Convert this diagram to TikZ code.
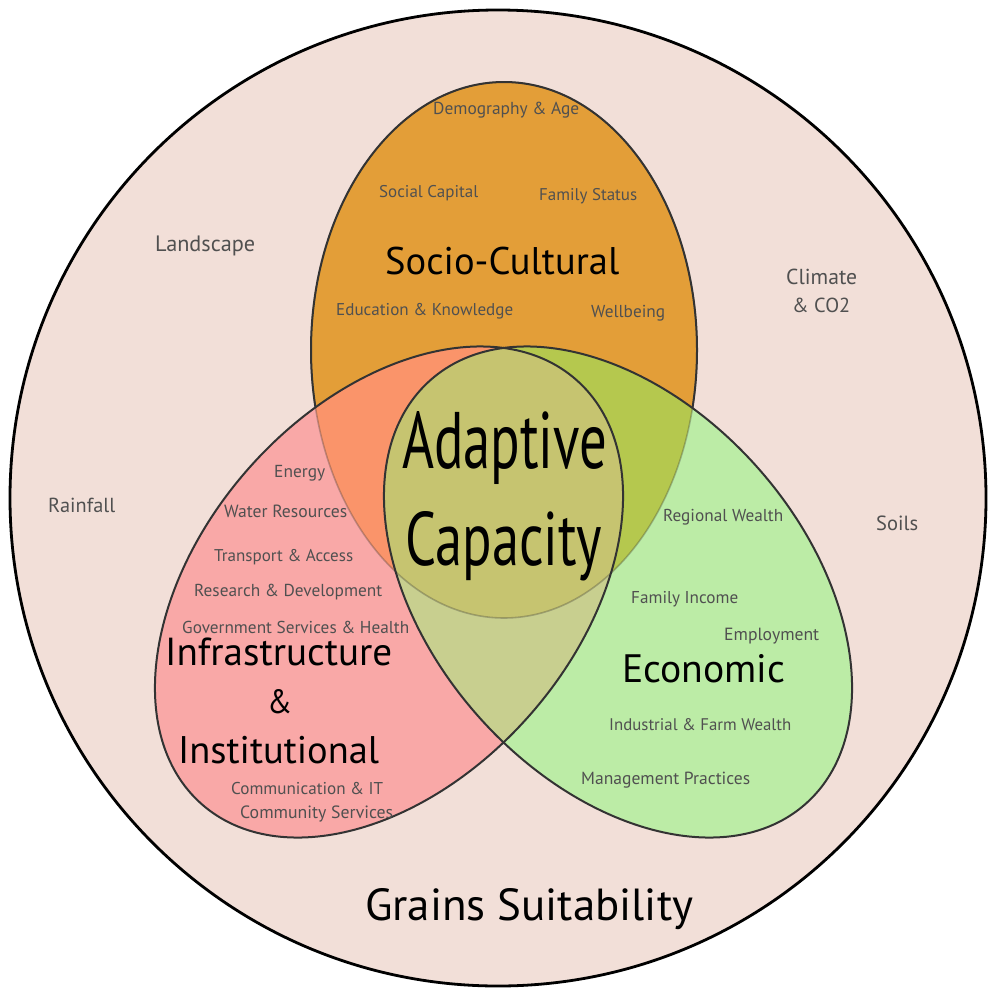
\documentclass[tikz,border=0pt]{standalone}
\usepackage{graphicx}
\usepackage{fontspec}
\setmainfont{PT Sans}
\definecolor{bgc}{HTML}{F2DFD8}
\definecolor{orc}{HTML}{E39E38}
\definecolor{pkc}{HTML}{F9A8A7}
\definecolor{grc}{HTML}{BCECA6}
\definecolor{salc}{HTML}{FA946A}
\definecolor{olc}{HTML}{B5C84E}
\definecolor{pgc}{HTML}{C8CF8F}
\definecolor{trc}{HTML}{C6C470}
\definecolor{txg}{HTML}{505050}
\definecolor{lnc}{HTML}{333333}
\newcommand{\fitw}[2]{\resizebox{#1pt}{!}{#2}}
\newcommand{\fitwh}[3]{\resizebox{#1pt}{#2pt}{#3}}
\begin{document}
\begin{tikzpicture}[x=1pt,y=-1pt,line join=round,
  pinkT/.style={rotate around={48.5:(389,592)}},
  greenT/.style={rotate around={-48.5:(618,592)}},
  ln/.style={draw=lnc,line width=2pt},
  faint/.style={draw=lnc,line width=1.6pt,draw opacity=0.3},
  lbl/.style={anchor=base west,inner sep=0pt,text=txg},
  big/.style={anchor=base west,inner sep=0pt,text=black}]
\useasboundingbox (0,0) rectangle (995,988);
\fill[white] (0,0) rectangle (995,988);
\fill[bgc] (498,498) circle[radius=488pt];
% socio-cultural
\fill[orc] (504,350) ellipse[x radius=193pt,y radius=268pt];
\draw[ln] (504,350) ellipse[x radius=193pt,y radius=268pt];
% infrastructure and economic
\fill[pkc,pinkT] (389,592) ellipse[x radius=283pt,y radius=187pt];
\fill[grc,greenT] (618,592) ellipse[x radius=283pt,y radius=187pt];
\begin{scope}
  \clip (504,350) ellipse[x radius=193pt,y radius=268pt];
  \fill[salc,pinkT] (389,592) ellipse[x radius=283pt,y radius=187pt];
  \fill[olc,greenT] (618,592) ellipse[x radius=283pt,y radius=187pt];
\end{scope}
\begin{scope}
  \clip[pinkT] (389,592) ellipse[x radius=283pt,y radius=187pt];
  \fill[pgc,greenT] (618,592) ellipse[x radius=283pt,y radius=187pt];
  \clip[greenT] (618,592) ellipse[x radius=283pt,y radius=187pt];
  \fill[trc] (504,350) ellipse[x radius=193pt,y radius=268pt];
\end{scope}
\draw[faint] (504,350) ellipse[x radius=193pt,y radius=268pt];
\draw[ln,pinkT] (389,592) ellipse[x radius=283pt,y radius=187pt];
\draw[ln,greenT] (618,592) ellipse[x radius=283pt,y radius=187pt];
\draw[black,line width=2.8pt] (498,498) circle[radius=488pt];
% outer labels
\node[lbl] (land) at (155,251) {\fitw{100}{Landscape}};
\node[lbl] (clim) at (786,284) {\fitw{71}{Climate}};
\node[lbl] (co2) at (792,312) {\fitw{58}{\& CO2}};
\node[lbl] (rain) at (48,512) {\fitw{67}{Rainfall}};
\node[lbl] (soil) at (876,530) {\fitw{42}{Soils}};
\node[big] (grain) at (365,920) {\fitw{328}{Grains Suitability}};
% socio-cultural labels
\node[lbl] (demo) at (433,114) {\fitw{146}{Demography \& Age}};
\node[lbl] (socap) at (379,197) {\fitw{99}{Social Capital}};
\node[lbl] (famst) at (539,200) {\fitw{98}{Family Status}};
\node[big] (socio) at (385,274) {\fitw{234}{Socio-Cultural}};
\node[lbl] (edu) at (336,315) {\fitw{177}{Education \& Knowledge}};
\node[lbl] (well) at (591,317) {\fitw{74}{Wellbeing}};
% infrastructure labels
\node[lbl] (ener) at (274,477) {\fitw{51}{Energy}};
\node[lbl] (water) at (224,517) {\fitw{123}{Water Resources}};
\node[lbl] (trans) at (214,561) {\fitw{139}{Transport \& Access}};
\node[lbl] (rd) at (194,596) {\fitw{188}{Research \& Development}};
\node[lbl] (gov) at (182,633) {\fitw{227}{Government Services \& Health}};
\node[big] (infra) at (165,665) {\fitw{227}{Infrastructure}};
\node[big] (amp) at (267,713) {\fitwh{25}{24}{\&}};
\node[big] (inst) at (178,763) {\fitw{201}{Institutional}};
\node[lbl] (comm) at (231,794) {\fitw{152}{Communication \& IT}};
\node[lbl] (csvc) at (240,818) {\fitw{153}{Community Services}};
% economic labels
\node[lbl] (regw) at (663,521) {\fitw{120}{Regional Wealth}};
\node[lbl] (faminc) at (631,603) {\fitw{107}{Family Income}};
\node[lbl] (empl) at (724,640) {\fitw{95}{Employment}};
\node[big] (econ) at (622,682) {\fitw{163}{Economic}};
\node[lbl] (indf) at (609,730) {\fitw{182}{Industrial \& Farm Wealth}};
\node[lbl] (mgmt) at (581,784) {\fitw{169}{Management Practices}};
% centre
\node[big] (adapt) at (402,468) {\fitwh{205}{57}{Adaptive}};
\node[big] (capac) at (405,565) {\fitwh{197}{54}{Capacity}};
\end{tikzpicture}
\end{document}
